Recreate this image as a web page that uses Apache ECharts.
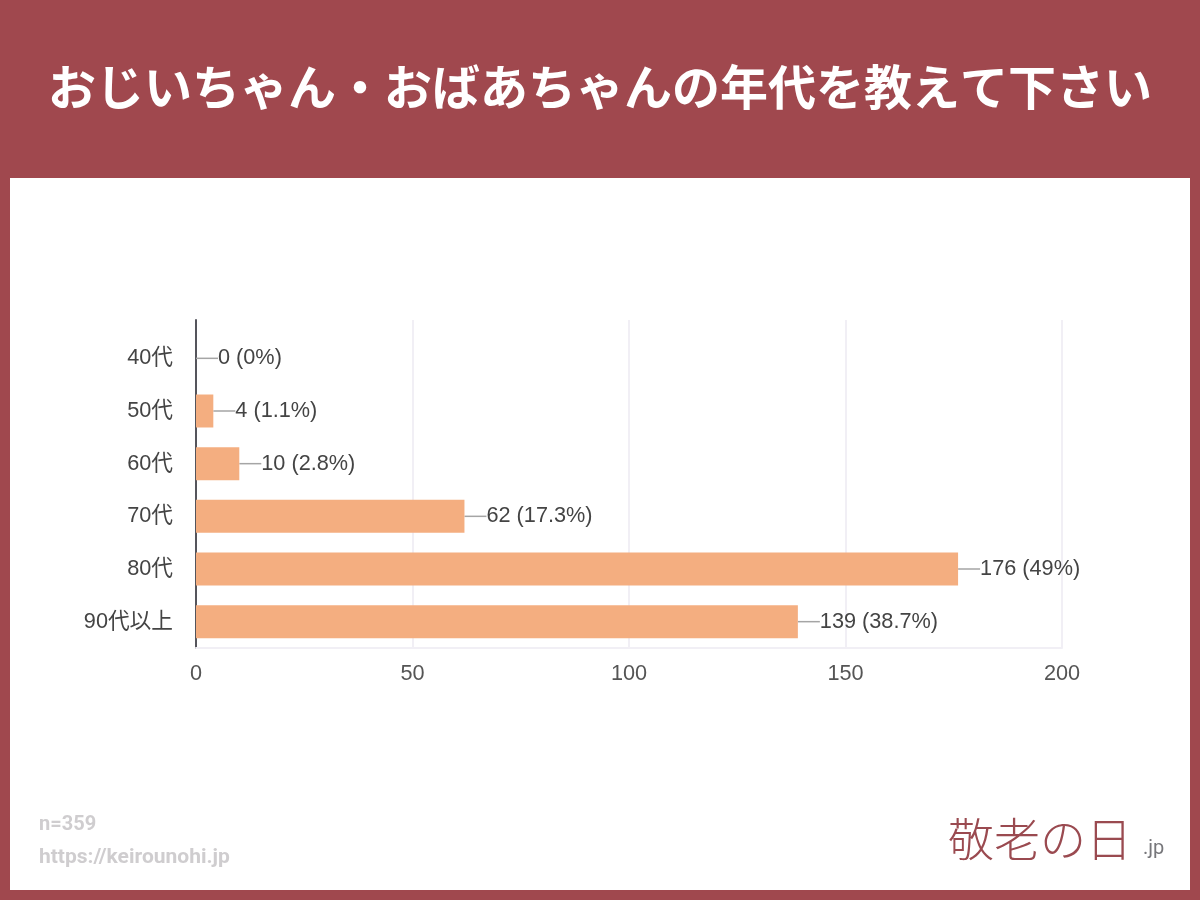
<!DOCTYPE html>
<html>
<head>
<meta charset="utf-8">
<style>html,body{margin:0;padding:0;background:#a0484e}#chart{width:1200px;height:900px}</style>
<script src="https://cdn.jsdelivr.net/npm/echarts@6/dist/echarts.min.js"></script>
</head>
<body>
<div id="chart"></div>
<script>
var categories = ['40代', '50代', '60代', '70代', '80代', '90代以上'];
var counts = [0, 4, 10, 62, 176, 139];
var percents = ['0%', '1.1%', '2.8%', '17.3%', '49%', '38.7%'];
var xTicks = [0, 50, 100, 150, 200];
var titleText = 'おじいちゃん・おばあちゃんの年代を教えて下さい';

var chart = echarts.init(document.getElementById('chart'));
var jpFont = '"Noto Sans CJK JP", sans-serif';
var latinFont = 'Arial, "Liberation Sans", "Noto Sans CJK JP", sans-serif';
var gridColor = '#f1eff5';

var option = {
    animation: false,
    backgroundColor: '#a0484e',
    title: {
        text: titleText,
        left: 48,
        top: 58,
        padding: 0,
        textStyle: {color: '#ffffff', fontFamily: jpFont, fontSize: 48, fontWeight: 'bold', lineHeight: 58}
    },
    graphic: [
        {type: 'rect', z: -1, shape: {x: 10, y: 178, width: 1180, height: 712}, style: {fill: '#ffffff'}},
        {type: 'text', x: 39, y: 815, style: {text: 'n=359', fill: '#cfcdcf', font: 'bold 20px Roboto'}},
        {type: 'text', x: 39, y: 847, style: {text: 'https://keirounohi.jp', fill: '#cfcdcf', font: 'bold 21px Roboto'}},
        {type: 'text', x: 948, y: 816, style: {text: '敬老の日', fill: '#9a4a50', font: '300 46px ' + jpFont}},
        {type: 'text', x: 1143, y: 839, style: {text: '.jp', fill: '#77777b', font: '20px Roboto'}}
    ],
    grid: [
        {left: 196, width: 866, top: 332, height: 316},
        {left: 196, width: 866, top: 320, height: 12}
    ],
    xAxis: [
        {
            type: 'value', gridIndex: 0, min: xTicks[0], max: xTicks[xTicks.length - 1], interval: 50,
            axisLine: {show: true, lineStyle: {color: gridColor, width: 2}},
            axisTick: {show: false},
            axisLabel: {color: '#555555', fontFamily: latinFont, fontSize: 21.7, margin: 15},
            splitLine: {show: true, lineStyle: {color: gridColor, width: 2}}
        },
        {
            type: 'value', gridIndex: 1, min: xTicks[0], max: xTicks[xTicks.length - 1], interval: 50,
            axisLine: {show: false}, axisTick: {show: false}, axisLabel: {show: false},
            splitLine: {show: true, lineStyle: {color: gridColor, width: 2}}
        }
    ],
    yAxis: [
        {
            type: 'category', gridIndex: 0, inverse: true, data: categories,
            axisLine: {show: true, lineStyle: {color: '#55555c', width: 2}},
            axisTick: {show: false},
            axisLabel: {color: '#444444', fontFamily: latinFont, fontSize: 21.7, margin: 23}
        },
        {
            type: 'category', gridIndex: 1, data: [''],
            axisLine: {show: true, lineStyle: {color: '#55555c', width: 2}},
            axisTick: {show: false}, axisLabel: {show: false}
        }
    ],
    series: [{
        type: 'bar',
        xAxisIndex: 0,
        yAxisIndex: 0,
        data: counts,
        barWidth: 33,
        itemStyle: {color: '#f4ae80'},
        label: {
            show: true,
            position: 'right',
            distance: 0,
            color: '#444444',
            fontFamily: latinFont,
            fontSize: 21.7,
            formatter: function (p) {
                return counts[p.dataIndex] + ' (' + percents[p.dataIndex] + ')';
            }
        },
        labelLayout: {dx: 22},
        labelLine: {show: true, lineStyle: {color: '#a5a5a5', width: 1.5}}
    }]
};
chart.setOption(option);
</script>
</body>
</html>
